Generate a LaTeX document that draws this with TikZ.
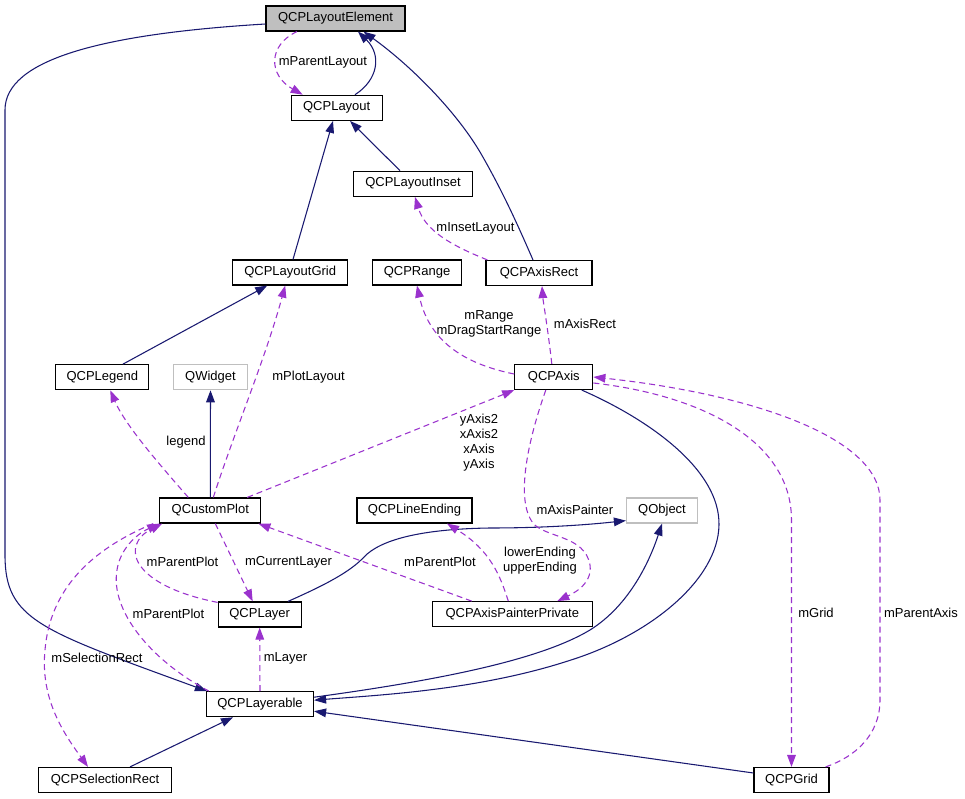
\documentclass[tikz,border=0pt]{standalone}
\usepackage{fontspec}
\setmainfont{Liberation Sans}
\usetikzlibrary{arrows.meta,calc}
\definecolor{navy}{HTML}{191970}
\definecolor{orchid}{HTML}{9A32CD}
\definecolor{lgray}{HTML}{BFBFBF}
\begin{document}
\begin{tikzpicture}[x=0.75pt,y=-0.75pt,
  every node/.style={font=\fontsize{9.75}{11.25}\selectfont},
  cls/.style={draw=black,line width=0.9pt,minimum height=18.75pt,inner sep=0pt,minimum width=#1*0.75pt},
  inh/.style={draw=navy,line width=0.8pt,-{Triangle[length=9pt,width=6.5pt]}},
  usr/.style={draw=orchid,line width=0.8pt,dash pattern=on 4.5pt off 3pt,-{Triangle[length=9pt,width=6.5pt]}},
  lbl/.style={align=center,inner sep=0pt}]
\useasboundingbox (0,0) rectangle (965,799);

% classes
\node[cls=139,fill=lgray] (le) at (335.5,18.5) {QCPLayoutElement};
\node[cls=91] (lay) at (336.7,107.8) {QCPLayout};
\node[cls=119] (inset) at (413,183.8) {QCPLayoutInset};
\node[cls=115] (grid) at (290.2,272.5) {QCPLayoutGrid};
\node[cls=89] (range) at (417,272.5) {QCPRange};
\node[cls=106] (axrect) at (539,273) {QCPAxisRect};
\node[cls=93] (legend) at (102.3,377.2) {QCPLegend};
\node[cls=74,draw=lgray] (qwidget) at (210.5,377.2) {QWidget};
\node[cls=78] (axis) at (553.8,377) {QCPAxis};
\node[cls=101] (cplot) at (210.3,510.5) {QCustomPlot};
\node[cls=115] (lineend) at (414.5,510.5) {QCPLineEnding};
\node[cls=71,draw=lgray] (qobject) at (662,510.5) {QObject};
\node[cls=83] (layer) at (259.7,614.5) {QCPLayer};
\node[cls=160] (painter) at (512.3,614.2) {QCPAxisPainterPrivate};
\node[cls=107] (layerable) at (260,704.2) {QCPLayerable};
\node[cls=133] (selrect) at (105,780) {QCPSelectionRect};
\node[cls=75] (qgrid) at (791.5,780) {QCPGrid};

% inheritance
\draw[inh] ($(lay.north)+(18.3,0)$) .. controls (378,80) and (382,55) .. ($(le.south)+(22.5,0)$);
\draw[inh] ($(inset.north)+(-13,0)$) -- ($(lay.south)+(13.3,0)$);
\draw[inh] ($(grid.north)+(2.8,0)$) -- ($(lay.south)+(-3.7,0)$);
\draw[inh] ($(legend.north)+(20.7,0)$) -- ($(grid.south)+(-23,0)$);
\draw[inh] ($(axrect.north)+(-6,0)$) .. controls (522,235) and (505,195) .. (480,152) .. controls (455,110) and (410,65) .. ($(le.south)+(28,0)$);
\draw[inh] ($(le.west)+(0,5.5)$) .. controls (100,34) and (5,60) .. (5,110) -- (5,555) .. controls (5,620) and (40,630) .. ($(layerable.north west)+(1,0)$);
\draw[inh] (cplot.north) -- (qwidget.south);
\draw[inh] ($(layer.north)+(28.3,0)$) .. controls (325,585) and (350,572) .. (364,557) .. controls (380,540) and (420,529) .. (490,528) .. controls (550,528) and (595,524) .. ($(qobject.south west)+(0,-3)$);
\draw[inh] ($(layerable.east)+(0,-7)$) .. controls (440,680) and (540,660) .. (590,630) .. controls (630,605) and (650,560) .. (qobject.south);
\draw[inh] ($(axis.south)+(28,0)$) .. controls (650,420) and (720,470) .. (719,525) .. controls (718,580) and (650,635) .. (571,660) .. controls (480,690) and (380,695) .. ($(layerable.east)+(0,-4)$);
\draw[inh] ($(selrect.north)+(25,0)$) -- ($(layerable.south)+(-27,0)$);
\draw[inh] ($(qgrid.west)+(0,-7)$) -- ($(layerable.east)+(0,7)$);

% usage
\draw[usr] ($(le.south)+(-38.5,0)$) .. controls (268,45) and (268,75) .. ($(lay.north)+(-34,0)$);
\draw[usr] ($(axrect.north west)+(2,0)$) .. controls (450,245) and (425,230) .. ($(inset.south)+(2,0)$);
\draw[usr] ($(axis.west)+(0,-3)$) .. controls (470,365) and (430,345) .. (range.south);
\draw[usr] ($(axis.north)+(-2,0)$) .. controls (548,330) and (543,300) .. ($(axrect.south)+(3,0)$);
\draw[usr] ($(cplot.north)+(3,0)$) .. controls (235,430) and (265,360) .. ($(grid.south)+(-5,0)$);
\draw[usr] ($(cplot.north)+(-22,0)$) .. controls (160,465) and (125,425) .. ($(legend.south)+(8,0)$);
\draw[usr] ($(cplot.north)+(37,0)$) -- (axis.south west);
\draw[usr] ($(axis.south)+(-8,0)$) .. controls (528,440) and (515,500) .. (533,523) .. controls (545,538) and (585,535) .. (590,565) .. controls (593,585) and (570,595) .. ($(painter.north)+(45,0)$);
\draw[usr] ($(painter.north)+(-4,0)$) .. controls (500,575) and (490,550) .. ($(lineend.south)+(32.5,0)$);
\draw[usr] ($(cplot.south)+(5,0)$) -- ($(layer.north)+(-7,0)$);
\draw[usr] ($(layer.north west)+(0,1)$) .. controls (130,585) and (120,545) .. ($(cplot.south west)+(3,0)$);
\draw[usr] ($(painter.north west)+(40,0)$) -- ($(cplot.south east)+(-3,0)$);
\draw[usr] ($(layerable.north west)+(3,0)$) .. controls (150,660) and (110,610) .. (117,570) .. controls (120,550) and (135,535) .. (cplot.south west);
\draw[usr] ($(cplot.south west)+(-6,0)$) .. controls (90,550) and (50,590) .. (45,650) .. controls (40,700) and (65,735) .. ($(selrect.north)+(-17,0)$);
\draw[usr] (layerable.north) -- (layer.south);
\draw[usr] ($(axis.east)+(0,6)$) .. controls (700,395) and (791.5,440) .. (791.5,520) -- (qgrid.north);
\draw[usr] ($(qgrid.north east)+(-4,0)$) .. controls (855,757) and (880,735) .. (880,700) -- (880,500) .. controls (880,440) and (760,395) .. (axis.east);

% labels
\node[lbl] (t1) at (323,62) {mParentLayout};
\node[lbl] (t2) at (475.5,228) {mInsetLayout};
\node[lbl] (t3) at (489,324) {mRange\\mDragStartRange};
\node[lbl] (t4) at (585,324) {mAxisRect};
\node[lbl] (t5) at (308.5,377) {mPlotLayout};
\node[lbl] (t6) at (186,442.5) {legend};
\node[lbl] (t7) at (479,442.5) {yAxis2\\xAxis2\\xAxis\\yAxis};
\node[lbl] (t8) at (575,510) {mAxisPainter};
\node[lbl] (t9) at (540,561) {lowerEnding\\upperEnding};
\node[lbl] (t10) at (288.5,562) {mCurrentLayer};
\node[lbl] (t11) at (182.5,562) {mParentPlot};
\node[lbl] (t12) at (440,562) {mParentPlot};
\node[lbl] (t13) at (168.5,614) {mParentPlot};
\node[lbl] (t14) at (97,658) {mSelectionRect};
\node[lbl] (t15) at (285.5,658) {mLayer};
\node[lbl] (t16) at (816,613) {mGrid};
\node[lbl] (t17) at (921,613) {mParentAxis};
\end{tikzpicture}
\end{document}
